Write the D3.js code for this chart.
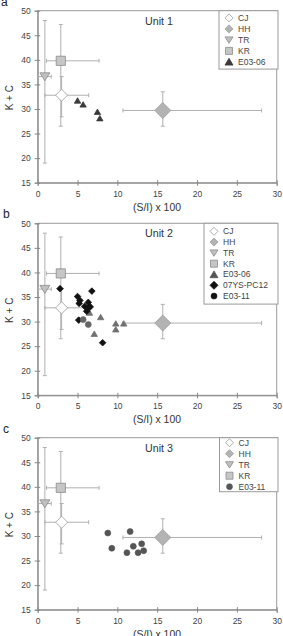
<!DOCTYPE html>
<html>
<head>
<meta charset="utf-8">
<script src="https://cdn.jsdelivr.net/npm/d3@7"></script>
<style>
  body { margin: 0; background: #fff; }
  svg { font-family: Arial, "Liberation Sans", sans-serif; }
  .tick text { fill: #444; font-size: 8.5px; }
  .tick line { stroke: #888; }
  .domain { stroke: #888; }
</style>
</head>
<body>
<svg id="chart" width="283" height="636"></svg>
<script>
// axis ticks
var xTicks = [0, 5, 10, 15, 20, 25, 30];
var yTicks = [15, 20, 25, 30, 35, 40, 45, 50];

// reference (source) areas, same on every panel
var refNames = ["CJ", "HH", "TR", "KR"];
var refX   = [3.0, 15.7, 0.9, 2.9];
var refY   = [32.8, 29.7, 36.6, 39.8];
var refXLo = [0.9, 10.7, 0.1, 1.1];
var refXHi = [6.4, 28.1, 1.7, 7.7];
var refYLo = [28.4, 26.5, 19.0, 26.5];
var refYHi = [36.6, 33.5, 48.0, 47.2];

// core samples
var e0306u1X = [5.0, 5.7, 7.5, 7.8];
var e0306u1Y = [31.7, 30.9, 29.4, 28.1];
var e0306u2X = [6.5, 7.9, 7.1, 9.8, 9.8, 10.8];
var e0306u2Y = [31.8, 30.9, 27.5, 29.6, 28.4, 29.6];
var pc12X = [2.8, 6.8, 5.0, 5.3, 5.2, 6.35, 5.9, 6.6, 6.15, 6.3, 8.15, 5.15];
var pc12Y = [36.7, 36.2, 35.1, 34.3, 33.7, 33.9, 33.1, 33.0, 32.1, 32.7, 25.7, 30.3];
var e0311u2X = [5.7, 6.35];
var e0311u2Y = [30.4, 29.4];
var e0311u3X = [8.8, 11.6, 9.3, 11.2, 12.0, 13.05, 12.6, 13.3];
var e0311u3Y = [30.6, 30.9, 27.5, 26.6, 27.9, 28.4, 26.6, 27.0];

var svg = d3.select("#chart");

var left = 37.7, plotW = 239, plotH = 172;

// marker shapes
function shapePath(kind, s) {
	if (kind === "diamond") return "M0," + (-s) + "L" + s + ",0L0," + s + "L" + (-s) + ",0Z";
	if (kind === "square") return "M" + (-s) + "," + (-s) + "h" + (2*s) + "v" + (2*s) + "h" + (-2*s) + "Z";
	if (kind === "tridown") return "M" + (-s) + "," + (-s*0.75) + "L" + s + "," + (-s*0.75) + "L0," + (s*0.85) + "Z";
	if (kind === "triup") return "M" + (-s) + "," + (s*0.8) + "L" + s + "," + (s*0.8) + "L0," + (-s*0.9) + "Z";
	return null;
}

function drawMark(g, kind, x, y, s, fill, stroke) {
	if (kind === "circle") {
		g.append("circle").attr("cx", x).attr("cy", y).attr("r", s)
			.attr("fill", fill).attr("stroke", stroke).attr("stroke-width", 0.6);
	} else {
		g.append("path").attr("d", shapePath(kind, s))
			.attr("transform", "translate(" + x + "," + y + ")")
			.attr("fill", fill).attr("stroke", stroke).attr("stroke-width", 0.8);
	}
}

var refStyle = [
	{kind: "diamond", size: 6,   fill: "#fff",    stroke: "#9a9a9a"},
	{kind: "diamond", size: 8,   fill: "#b3b3b3", stroke: "#9a9a9a"},
	{kind: "tridown", size: 5,   fill: "#c0c0c0", stroke: "#8a8a8a"},
	{kind: "square",  size: 4.6, fill: "#c6c6c6", stroke: "#8a8a8a"}
];

var panels = [
	{letter: "a", title: "Unit 1", top: 10.7, legX: 219, legW: 59, legStep: 11, legFirst: 7.2,
	 series: [{name: "E03-06", kind: "triup", size: 3.2, fill: "#3a3a3a", legFill: "#3a3a3a", xs: e0306u1X, ys: e0306u1Y}]},
	{letter: "b", title: "Unit 2", top: 223.3, legX: 204, legW: 74, legStep: 10.8, legFirst: 8,
	 series: [
		{name: "E03-06", kind: "triup", size: 3.2, fill: "#707070", legFill: "#555", xs: e0306u2X, ys: e0306u2Y},
		{name: "07YS-PC12", kind: "diamond", size: 3.3, fill: "#111", legFill: "#111", xs: pc12X, ys: pc12Y},
		{name: "E03-11", kind: "circle", size: 3, fill: "#666", legFill: "#111", xs: e0311u2X, ys: e0311u2Y}
	 ]},
	{letter: "c", title: "Unit 3", top: 437.7, legX: 219.5, legW: 58.5, legStep: 11, legFirst: 5,
	 series: [{name: "E03-11", kind: "circle", size: 3, fill: "#555", legFill: "#555", xs: e0311u3X, ys: e0311u3Y}]}
];

panels.forEach(function(p) {
	var x = d3.scaleLinear().domain([0, 30]).range([left, left + plotW]);
	var y = d3.scaleLinear().domain([15, 50]).range([p.top + plotH, p.top]);
	var g = svg.append("g");

	// frame
	g.append("rect").attr("x", left).attr("y", p.top).attr("width", plotW).attr("height", plotH)
		.attr("fill", "none").attr("stroke", "#9a9a9a").attr("stroke-width", 1);

	// axes (ticks cross the axis line)
	var xa = g.append("g").attr("transform", "translate(0," + (p.top + plotH) + ")")
		.call(d3.axisBottom(x).tickValues(xTicks).tickSize(3).tickPadding(5));
	xa.selectAll(".tick line").attr("y1", -2.5);
	var ya = g.append("g").attr("transform", "translate(" + left + ",0)")
		.call(d3.axisLeft(y).tickValues(yTicks).tickSize(3).tickPadding(4));
	ya.selectAll(".tick line").attr("x1", 2.5);
	g.selectAll(".tick line").attr("stroke", "#888");

	// labels
	g.append("text").attr("x", 157).attr("y", p.top + plotH + 28).attr("text-anchor", "middle")
		.attr("font-size", 10.4).attr("fill", "#333").text("(S/I) x 100");
	g.append("text").attr("transform", "translate(13," + (p.top + 87) + ") rotate(-90)")
		.attr("text-anchor", "middle").attr("font-size", 10).attr("fill", "#333").text("K + C");
	g.append("text").attr("x", 159).attr("y", p.top + 14).attr("text-anchor", "middle")
		.attr("font-size", 10.7).attr("fill", "#333").text(p.title);
	g.append("text").attr("x", p.letter === "a" ? 1 : 3).attr("y", p.top - 5)
		.attr("font-size", 12).attr("fill", "#222").text(p.letter);

	// error bars
	var eb = g.append("g").attr("stroke", "#b0b0b0").attr("stroke-width", 1).attr("fill", "none");
	refNames.forEach(function(n, i) {
		var cx = x(refX[i]), cy = y(refY[i]);
		eb.append("line").attr("x1", x(refXLo[i])).attr("x2", x(refXHi[i])).attr("y1", cy).attr("y2", cy);
		eb.append("line").attr("x1", x(refXHi[i])).attr("x2", x(refXHi[i])).attr("y1", cy - 2).attr("y2", cy + 2);
		eb.append("line").attr("x1", x(refXLo[i])).attr("x2", x(refXLo[i])).attr("y1", cy - 2).attr("y2", cy + 2);
		eb.append("line").attr("x1", cx).attr("x2", cx).attr("y1", y(refYLo[i])).attr("y2", y(refYHi[i]));
		eb.append("line").attr("x1", cx - 2).attr("x2", cx + 2).attr("y1", y(refYLo[i])).attr("y2", y(refYLo[i]));
		eb.append("line").attr("x1", cx - 2).attr("x2", cx + 2).attr("y1", y(refYHi[i])).attr("y2", y(refYHi[i]));
	});

	// reference markers
	refNames.forEach(function(n, i) {
		var st = refStyle[i];
		drawMark(g, st.kind, x(refX[i]), y(refY[i]), st.size, st.fill, st.stroke);
	});

	// sample markers
	p.series.forEach(function(s) {
		s.xs.forEach(function(v, j) {
			drawMark(g, s.kind, x(v), y(s.ys[j]), s.size, s.fill, s.fill);
		});
	});

	// legend
	var n = refNames.length + p.series.length;
	var legH = p.legFirst * 2 + (n - 1) * p.legStep;
	var lg = g.append("g").attr("transform", "translate(" + p.legX + "," + p.top + ")");
	lg.append("rect").attr("width", p.legW).attr("height", legH)
		.attr("fill", "#fff").attr("stroke", "#9a9a9a").attr("stroke-width", 1);
	var items = refNames.map(function(nm, i) {
		return {name: nm, kind: refStyle[i].kind, fill: refStyle[i].fill, stroke: refStyle[i].stroke};
	}).concat(p.series.map(function(s) {
		return {name: s.name, kind: s.kind, fill: s.legFill, stroke: s.legFill};
	}));
	items.forEach(function(it, i) {
		var ly = p.legFirst + i * p.legStep;
		var sz = it.kind === "circle" ? 3 : (it.kind === "square" ? 3.5 : 4);
		drawMark(lg, it.kind, 10, ly, sz, it.fill, it.stroke);
		lg.append("text").attr("x", 19).attr("y", ly + 3).attr("font-size", 8.5)
			.attr("fill", "#444").text(it.name);
	});
});
</script>
</body>
</html>
